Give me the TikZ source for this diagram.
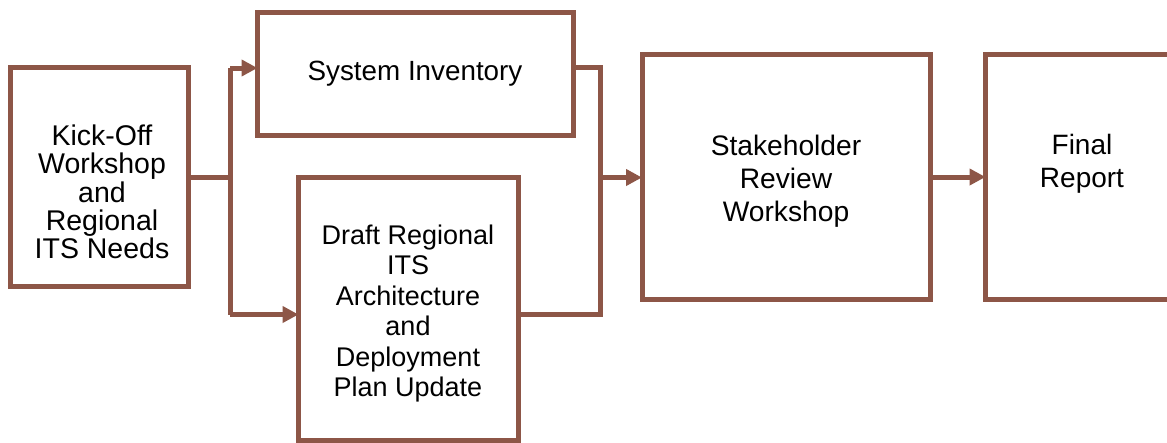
\documentclass[tikz,border=0pt]{standalone}
\usepackage{fontspec}
\setmainfont{Liberation Sans}
\usetikzlibrary{arrows.meta}
\definecolor{boxbrown}{RGB}{141,86,71}
\begin{document}
\begin{tikzpicture}[x=1pt, y=-1pt]
		\tikzstyle{box}=[draw=boxbrown, line width=5pt, inner sep=0pt, outer sep=0pt, rectangle]
		\tikzstyle{txt}=[inner sep=0pt, align=center, anchor=north]
		\tikzstyle{flow}=[draw=boxbrown, line width=5pt, line join=miter, -{Triangle[length=16pt, width=16pt]}]
		\tikzstyle{link}=[draw=boxbrown, line width=5pt, line join=miter]
		\useasboundingbox (0,0) rectangle (1167,442);
		\node[box, minimum width=178pt, minimum height=218.5pt] (kick) at (99, 176.75) {};
		\node[box, minimum width=315.5pt, minimum height=123pt] (inv) at (415.25, 74) {};
		\node[box, minimum width=219.5pt, minimum height=262.5pt] (draft) at (408.25, 308.75) {};
		\node[box, minimum width=288pt, minimum height=245pt] (stake) at (786, 177) {};
		\node[box, minimum width=193pt, minimum height=245pt] (final) at (1082, 177) {};
		\node[txt, font=\fontsize{28.5}{28.4}\selectfont] (kicktxt) at (102, 124.5) {Kick-Off\\Workshop\\and\\Regional\\ITS Needs};
		\node[txt, font=\fontsize{27.8}{30}\selectfont] (invtxt) at (415, 60.5) {System Inventory};
		\node[txt, font=\fontsize{27}{30.5}\selectfont] (drafttxt) at (408, 224.5) {Draft Regional\\ITS\\Architecture\\and\\Deployment\\Plan Update};
		\node[txt, font=\fontsize{28.2}{33.3}\selectfont] (staketxt) at (786, 134.5) {Stakeholder\\Review\\Workshop};
		\node[txt, font=\fontsize{28}{33.3}\selectfont] (finaltxt) at (1082, 134) {Final\\Report};
		\coordinate (splitL) at (230, 177);
		\coordinate (splitLtop) at (230, 68);
		\coordinate (splitLbot) at (230, 314.5);
		\coordinate (joinRtop) at (600, 67);
		\coordinate (joinRbot) at (600, 314.5);
		\coordinate (joinR) at (600, 177.5);
		\draw[link] (kick.east |- splitL) -- (splitL);
		\draw[link] (splitLtop) -- (splitLbot);
		\draw[flow] (splitLtop) -- (splitLtop -| inv.west);
		\draw[flow] (splitLbot) -- (splitLbot -| draft.west);
		\draw[link] (inv.east |- joinRtop) -- (joinRtop) -- (joinRbot) -- (joinRbot -| draft.east);
		\draw[flow] (joinR) -- (joinR -| stake.west);
		\draw[flow] (stake.east) -- (final.west);
\end{tikzpicture}
\end{document}
